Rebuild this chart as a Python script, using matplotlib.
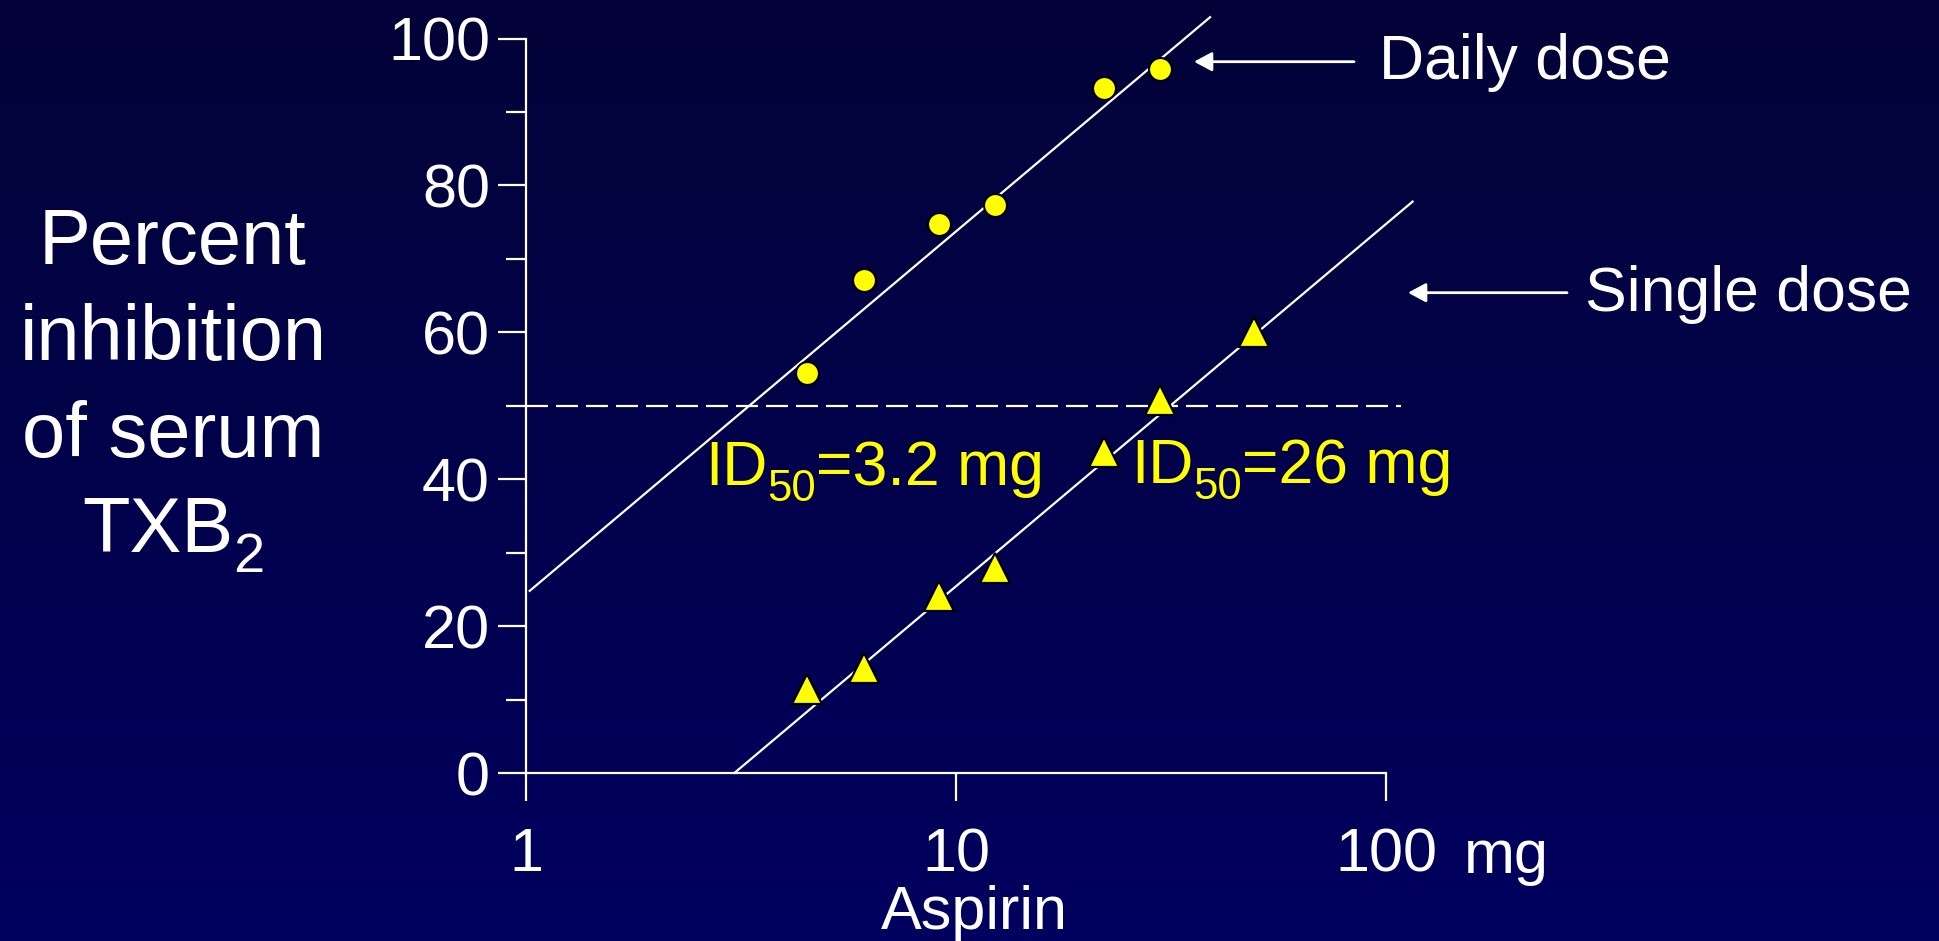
import numpy as np
import matplotlib
matplotlib.use('Agg')
import matplotlib.pyplot as plt
from matplotlib.colors import LinearSegmentedColormap
from matplotlib.ticker import NullLocator

plt.rcParams['font.family'] = ['Liberation Sans', 'DejaVu Sans']
plt.rcParams['lines.scale_dashes'] = False

# ---- data ----
daily_dose_mg = [4.5, 6.1, 9.1, 12.3, 22.1, 29.8]
daily_inhibition = [54.5, 67.1, 74.7, 77.3, 93.3, 95.8]
single_dose_mg = [4.5, 6.1, 9.1, 12.3, 22.1, 29.8, 49.1]
single_inhibition = [11.5, 14.3, 24.1, 27.9, 43.7, 50.8, 60.1]
daily_fit_x = [1.02, 38.9]
daily_fit_y = [24.8, 102.9]
single_fit_x = [3.05, 115]
single_fit_y = [0, 77.8]
half_x = [1, 108]
half_y = [50, 50]
xticks = [1, 10, 100]
xtick_labels = ['1', '10', '100']
yticks_major = [0, 20, 40, 60, 80, 100]
yticks_minor = [10, 30, 50, 70, 90]
ylabel_lines = ['Percent', 'inhibition', 'of serum']
ylabel_last = ('TXB', '2', '')
id50_daily = ('ID', '50', '=3.2 mg')
id50_single = ('ID', '50', '=26 mg')

W, H = 1940, 941
fig = plt.figure(figsize=(W / 100, H / 100), dpi=100)
renderer = fig.canvas.get_renderer()

def fx(px):
    return px / W

def fy(py):
    return 1 - py / H

def sub_text(x_px, base_px, parts, size, color, drop, scale=0.7, center=False):
    main, sub, rest = parts
    sizes = [size, size * scale, size]
    texts = [main, sub, rest]
    widths = []
    for s, fs in zip(texts, sizes):
        if s:
            t = fig.text(0, 0, s, fontsize=fs)
            widths.append(t.get_window_extent(renderer).width)
            t.remove()
        else:
            widths.append(0)
    x = x_px - (sum(widths) / 2 if center else 0)
    offs = [0, drop, 0]
    for s, fs, w, o in zip(texts, sizes, widths, offs):
        if s:
            fig.text(fx(x), fy(base_px + o), s, fontsize=fs, color=color,
                     va='baseline', ha='left')
        x += w

# background gradient
bg = fig.add_axes([0, 0, 1, 1], zorder=-10)
cmap = LinearSegmentedColormap.from_list('bg', ['#030338', '#00005f'])
bg.imshow(np.linspace(0, 1, 256).reshape(-1, 1), aspect='auto', cmap=cmap,
          extent=[0, 1, 0, 1], origin='upper')
bg.axis('off')

ax = fig.add_axes([fx(526), fy(773), (1386.5 - 526) / W, (773 - 38.5) / H])
ax.set_facecolor('none')
ax.set_xscale('log')
ax.set_xlim(1, 100)
ax.set_ylim(0, 100)
for s in ['top', 'right']:
    ax.spines[s].set_visible(False)
for s in ['left', 'bottom']:
    ax.spines[s].set_color('white')
    ax.spines[s].set_linewidth(1.6)

ax.set_xticks(xticks)
ax.set_xticklabels(xtick_labels)
ax.xaxis.set_minor_locator(NullLocator())
ax.tick_params(axis='x', which='major', direction='out', length=20, width=1.6,
               colors='white', labelsize=44, pad=19)
ax.set_yticks(yticks_major)
ax.set_yticks(yticks_minor, minor=True)
ax.tick_params(axis='y', which='major', direction='out', length=20, width=1.6,
               colors='white', labelsize=44, pad=6)
ax.tick_params(axis='y', which='minor', direction='out', length=14.4, width=1.6,
               colors='white')

# fit lines and 50% line
ax.plot(daily_fit_x, daily_fit_y, color='white', lw=1.6, clip_on=False, zorder=3)
ax.plot(single_fit_x, single_fit_y, color='white', lw=1.6, clip_on=False, zorder=3)
ax.plot(half_x, half_y, color='white', lw=1.6, dashes=(15.8, 5.8), clip_on=False, zorder=2)

# data points
ax.plot(daily_dose_mg, daily_inhibition, 'o', ms=16.5, mfc='#ffff00', mec='black',
        mew=1.5, clip_on=False, zorder=5)
ax.plot(single_dose_mg, single_inhibition, '^', ms=21, mfc='#ffff00', mec='black',
        mew=1.6, clip_on=False, zorder=5)

# texts
fig.text(fx(1464), fy(873), 'mg', color='white', fontsize=44, va='baseline', ha='left')
fig.text(fx(974), fy(929), 'Aspirin', color='white', fontsize=44, va='baseline', ha='center')
for line, b in zip(ylabel_lines, [264, 360, 457]):
    fig.text(fx(173), fy(b), line, color='white', fontsize=56, va='baseline', ha='center')
sub_text(173, 552, ylabel_last, 56, 'white', drop=20, scale=0.72, center=True)

sub_text(705, 485, id50_daily, 45, '#ffff00', drop=16, scale=0.7)
sub_text(1131, 483, id50_single, 45, '#ffff00', drop=16, scale=0.7)
fig.text(fx(1379), fy(79), 'Daily dose', color='white', fontsize=45, va='baseline', ha='left')
fig.text(fx(1585), fy(311), 'Single dose', color='white', fontsize=45, va='baseline', ha='left')

arrow_kw = dict(arrowstyle='-|>,head_length=10.8,head_width=5.8', mutation_scale=1,
                color='white', lw=2, shrinkA=0, shrinkB=0)
ax.annotate('', xy=(fx(1194), fy(61.7)), xycoords='figure fraction',
            xytext=(fx(1354), fy(61.7)), textcoords='figure fraction',
            arrowprops=arrow_kw, annotation_clip=False)
ax.annotate('', xy=(fx(1408), fy(292.7)), xycoords='figure fraction',
            xytext=(fx(1567), fy(292.7)), textcoords='figure fraction',
            arrowprops=arrow_kw, annotation_clip=False)

fig.savefig('out.png', dpi=100)
